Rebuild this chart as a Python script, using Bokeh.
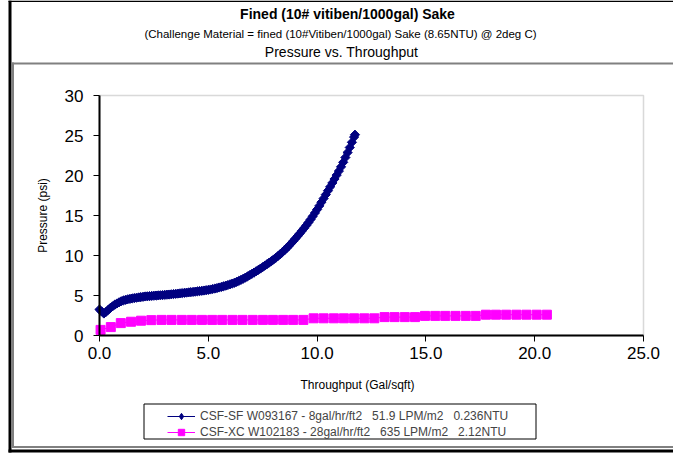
from math import pi
from bokeh.plotting import figure
from bokeh.models import (Range1d, FixedTicker, NumeralTickFormatter, Label,
                          BoxAnnotation, Legend, LegendItem, LinearAxis)
from bokeh.embed import file_html
from bokeh.resources import INLINE

# ---------------- data ----------------
title_main = "Fined (10# vitiben/1000gal) Sake"
title_sub = "(Challenge Material = fined (10#Vitiben/1000gal) Sake (8.65NTU) @ 2deg C)"
title_third = "Pressure vs. Throughput"
x_label = "Throughput (Gal/sqft)"
y_label = "Pressure (psi)"

x_ticks = [0, 5, 10, 15, 20, 25]
y_ticks = [0, 5, 10, 15, 20, 25, 30]

sf_label = "CSF-SF W093167 - 8gal/hr/ft2   51.9 LPM/m2   0.236NTU"
sf_x = [0.0, 0.1, 0.2, 0.3, 0.4, 0.5, 0.6, 0.7, 0.8, 0.9,
        1.0, 1.1, 1.2, 1.3, 1.4, 1.5, 1.6, 1.7, 1.8, 1.9,
        2.0, 2.1, 2.2, 2.3, 2.4, 2.5, 2.6, 2.7, 2.8, 2.9,
        3.0, 3.1, 3.2, 3.3, 3.4, 3.5, 3.6, 3.7, 3.8, 3.9,
        4.0, 4.1, 4.2, 4.3, 4.4, 4.5, 4.6, 4.7, 4.8, 4.9,
        5.0, 5.1, 5.2, 5.3, 5.4, 5.5, 5.6, 5.7, 5.8, 5.9,
        6.0, 6.1, 6.2, 6.3, 6.4, 6.5, 6.6, 6.7, 6.8, 6.9,
        7.0, 7.1, 7.2, 7.3, 7.4, 7.5, 7.6, 7.7, 7.8, 7.9,
        8.0, 8.1, 8.2, 8.3, 8.4, 8.5, 8.6, 8.7, 8.8, 8.9,
        9.0, 9.1, 9.2, 9.3, 9.4, 9.5, 9.6, 9.7, 9.8, 9.9,
        10.0, 10.1, 10.2, 10.3, 10.4, 10.5, 10.6, 10.7, 10.8, 10.9,
        11.0, 11.1, 11.2, 11.3, 11.4, 11.5, 11.6, 11.7, 11.74]
sf_y = [3.25, 3.0, 2.75, 2.95, 3.2, 3.45, 3.65, 3.85, 4.0, 4.15,
        4.28, 4.38, 4.46, 4.53, 4.58, 4.63, 4.68, 4.72, 4.76, 4.8,
        4.84, 4.88, 4.9, 4.92, 4.95, 4.97, 4.99, 5.01, 5.03, 5.05,
        5.08, 5.1, 5.12, 5.15, 5.18, 5.21, 5.24, 5.27, 5.3, 5.33,
        5.36, 5.39, 5.42, 5.45, 5.48, 5.52, 5.55, 5.59, 5.62, 5.66,
        5.70, 5.75, 5.81, 5.87, 5.93, 6.00, 6.07, 6.15, 6.23, 6.31,
        6.40, 6.49, 6.59, 6.70, 6.82, 6.95, 7.09, 7.23, 7.38, 7.54,
        7.70, 7.86, 8.03, 8.20, 8.37, 8.55, 8.73, 8.92, 9.11, 9.30,
        9.50, 9.71, 9.93, 10.16, 10.40, 10.65, 10.92, 11.20, 11.49, 11.79,
        12.10, 12.42, 12.74, 13.07, 13.41, 13.75, 14.12, 14.50, 14.90, 15.32,
        15.75, 16.20, 16.66, 17.13, 17.61, 18.10, 18.58, 19.07, 19.56, 20.05,
        20.55, 21.08, 21.65, 22.25, 22.87, 23.50, 24.15, 24.80, 25.10]

xc_label = "CSF-XC W102183 - 28gal/hr/ft2   635 LPM/m2   2.12NTU"
xc_x = [0.05, 0.52, 0.98, 1.45, 1.91, 2.38, 2.85, 3.31, 3.78, 4.24,
        4.71, 5.18, 5.64, 6.11, 6.57, 7.04, 7.51, 7.97, 8.44, 8.90,
        9.37, 9.84, 10.30, 10.77, 11.23, 11.70, 12.17, 12.63, 13.10, 13.56,
        14.03, 14.50, 14.96, 15.43, 15.89, 16.36, 16.83, 17.29, 17.76, 18.22,
        18.69, 19.16, 19.62, 20.09, 20.56]
xc_y = [0.7, 1.05, 1.55, 1.72, 1.85, 1.92, 1.95, 1.95, 1.95, 1.95,
        1.95, 1.95, 1.95, 1.95, 1.95, 1.95, 1.95, 1.95, 1.95, 1.95,
        1.95, 2.15, 2.15, 2.15, 2.15, 2.15, 2.15, 2.15, 2.3, 2.3,
        2.3, 2.3, 2.45, 2.45, 2.45, 2.45, 2.45, 2.45, 2.6, 2.6,
        2.6, 2.6, 2.6, 2.6, 2.6]

X_MIN, X_MAX = 0, 25
Y_MIN, Y_MAX = 0, 30

# ---------------- layout (canvas pixels) ----------------
W, H = 673, 454
PX_L, PX_R = 99, 643      # plot-area left/right (pixels)
PY_T, PY_B = 95, 335      # plot-area top/bottom (pixels)
FONT = "Liberation Sans"
NAVY = "#000080"
MAGENTA = "#FF00FF"

sx = (PX_R - PX_L) / (X_MAX - X_MIN)
sy = (PY_B - PY_T) / (Y_MAX - Y_MIN)
xr = Range1d(X_MIN - PX_L / sx, X_MIN + (W - PX_L) / sx)
yr = Range1d(Y_MIN - (H - PY_B) / sy, Y_MIN + PY_B / sy)

p = figure(width=W, height=H, output_backend="svg", toolbar_location=None,
           x_range=xr, y_range=yr, x_axis_type=None, y_axis_type=None,
           min_border=0)
p.min_border_left = p.min_border_right = p.min_border_top = p.min_border_bottom = 0
p.grid.visible = False
p.background_fill_color = "white"
p.border_fill_color = "white"
p.outline_line_color = None

# plot-area border (gray; left/bottom covered by the black axes)
p.add_layout(BoxAnnotation(left=X_MIN, right=X_MAX, bottom=Y_MIN, top=Y_MAX,
                           fill_color="white", fill_alpha=1,
                           line_color="#808080", line_width=1.5, level="underlay"))

xaxis = LinearAxis(fixed_location=Y_MIN, bounds=(X_MIN, X_MAX),
                   ticker=FixedTicker(ticks=x_ticks),
                   formatter=NumeralTickFormatter(format="0.0"))
yaxis = LinearAxis(fixed_location=X_MIN, bounds=(Y_MIN, Y_MAX),
                   ticker=FixedTicker(ticks=y_ticks))
for ax in (xaxis, yaxis):
    ax.axis_line_color = "black"
    ax.axis_line_width = 2
    ax.major_tick_line_color = "black"
    ax.major_tick_line_width = 1
    ax.major_tick_out = 6
    ax.major_tick_in = 0
    ax.minor_tick_line_color = None
    ax.major_label_text_font = FONT
    ax.major_label_text_font_size = "17px"
    ax.major_label_text_color = "black"
xaxis.major_label_standoff = 5
yaxis.major_label_standoff = 10
p.add_layout(xaxis, "below")
p.add_layout(yaxis, "left")

# series
sf_line = p.line(sf_x, sf_y, line_color=NAVY, line_width=1)
sf_pts = p.scatter(sf_x, sf_y, marker="square", angle=pi / 4, size=6.5,
                   fill_color=NAVY, line_color=NAVY)
xc_line = p.line(xc_x, xc_y, line_color=MAGENTA, line_width=1)
xc_pts = p.scatter(xc_x, xc_y, marker="square", size=9,
                   fill_color=MAGENTA, line_color=MAGENTA)
# legend-only key glyph (diamond symbol); its single point is NaN so nothing is plotted
sf_key = p.scatter(x=[float("nan")], y=[float("nan")], marker="diamond", size=12,
                   fill_color=NAVY, line_color=NAVY)

# page pixel -> screen units (frame == canvas, y measured upward)
def rx(px):
    return px

def ry(py):
    return H - py

def lab(text, px, py, size, bold=False, angle=0):
    p.add_layout(Label(x=rx(px), y=ry(py), x_units="screen", y_units="screen",
                       text=text, text_font=FONT, text_font_size=size,
                       text_font_style="bold" if bold else "normal",
                       text_color="black", angle=angle,
                       text_align="center", text_baseline="middle"))

lab(title_main, 347, 13, "14px", bold=True)
lab(title_sub, 340, 33, "11.5px")
lab(title_third, 341, 51, "14px")
lab(x_label, 357, 384, "12px")
lab(y_label, 42, 215, "12px", angle=pi / 2)

def band(l, r, t, b, color):
    p.add_layout(BoxAnnotation(left=rx(l), right=rx(r), top=ry(t), bottom=ry(b),
                               left_units="screen", right_units="screen",
                               top_units="screen", bottom_units="screen",
                               fill_color=color, fill_alpha=1,
                               line_alpha=0))

EDGE = W  # the chart area continues past the right edge of the picture
# chart-area frame (gray, open to the right edge of the picture)
band(11.5, EDGE, 62, 64, "#808080")
band(11.5, 13.5, 62, 447.5, "#808080")
band(11.5, EDGE, 445.5, 447.5, "#808080")
# outer frame (black)
band(8, 11, 0, 452, "black")
band(8, EDGE, 0, 1.5, "black")
band(8, EDGE, 449, 452, "black")

# legend border
p.add_layout(BoxAnnotation(left=rx(143.5), right=rx(535.5), top=ry(403.5), bottom=ry(438.5),
                           left_units="screen", right_units="screen",
                           top_units="screen", bottom_units="screen",
                           fill_alpha=0, line_color="black", line_width=1,
                           line_alpha=1))

legend = Legend(items=[LegendItem(label=sf_label, renderers=[sf_line, sf_key]),
                       LegendItem(label=xc_label, renderers=[xc_line, xc_pts])],
                location=(rx(164), ry(443)), padding=3, spacing=0, margin=0,
                glyph_width=28, glyph_height=16, label_height=16, label_standoff=5,
                label_text_font=FONT, label_text_font_size="12px",
                border_line_alpha=0, background_fill_alpha=0)
p.add_layout(legend)

open("out.html", "w").write(file_html(p, INLINE))
